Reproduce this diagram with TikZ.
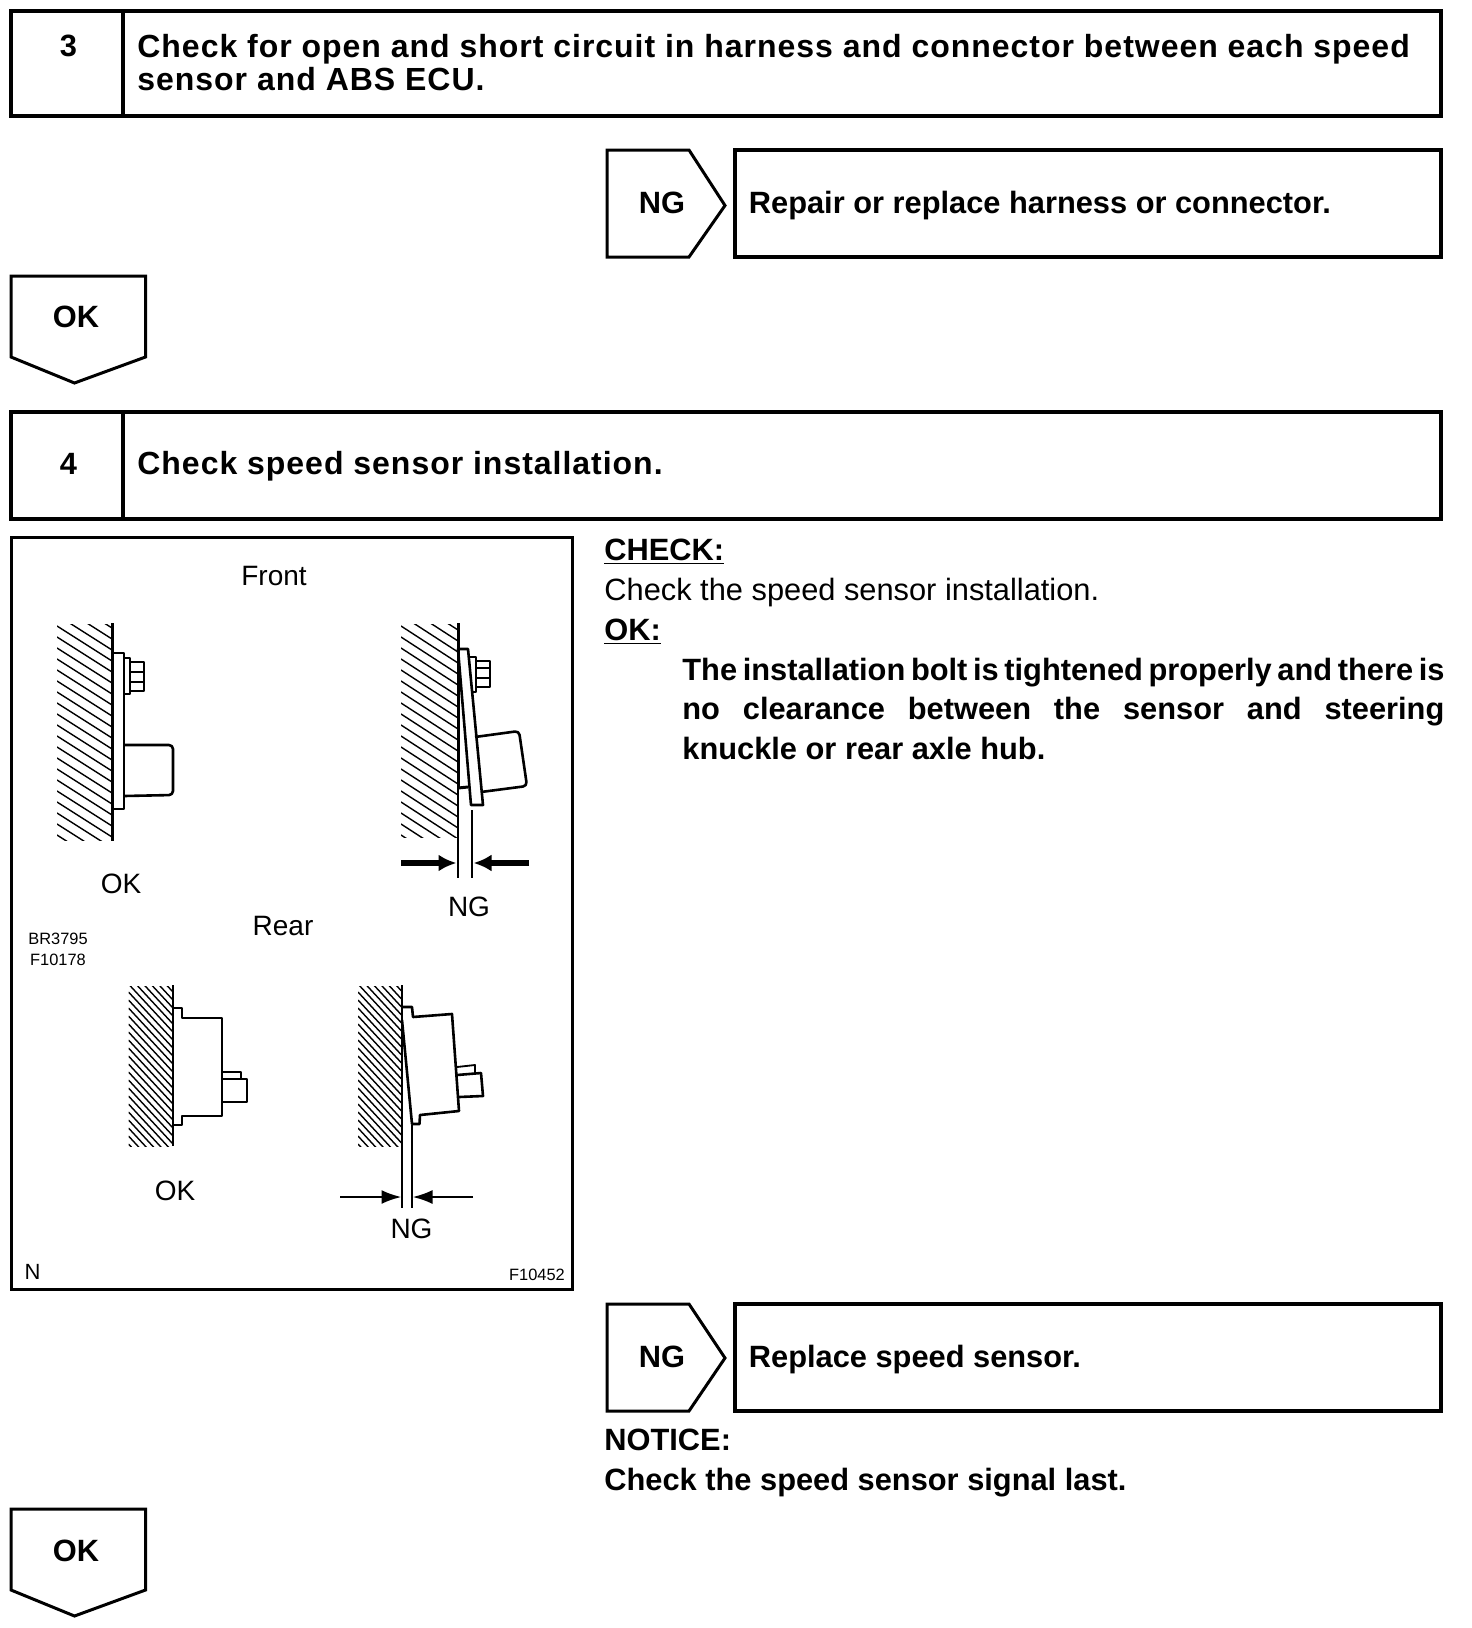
\documentclass[tikz,border=0pt]{standalone}
\usepackage{fontspec}
\setmainfont{Liberation Sans}
\usetikzlibrary{arrows.meta,positioning,calc}
\tikzset{
  stepframe/.style={draw, line width=1.7pt, line join=miter},
  tagframe/.style={draw, line width=1.5pt, line join=miter},
  panelframe/.style={draw, line width=1.5pt},
  partline/.style={draw, line width=1.3pt, line join=round},
  thickpart/.style={draw, line width=1.5pt, line join=round},
  hatchline/.style={line width=0.7pt},
  gapline/.style={line width=0.7pt},
  gaparrow/.style={-{Latex[length=10pt,width=7pt]}, line width=1.2pt},
  gaparrowbold/.style={-{Latex[length=9pt,width=8.5pt]}, line width=3.2pt},
  steptext/.style={inner sep=0pt, anchor=west, font=\fontsize{16}{16.5}\selectfont\bfseries\addfontfeature{LetterSpace=3.05}, align=left},
  tagtext/.style={inner sep=0pt, font=\fontsize{15.4}{16.5}\selectfont\bfseries},
  bodytext/.style={inner sep=0pt, anchor=west, font=\fontsize{15.4}{19.7}\selectfont},
  boldtext/.style={inner sep=0pt, anchor=west, font=\fontsize{15.4}{19.7}\selectfont\bfseries},
  figtext/.style={inner sep=0pt, font=\fontsize{14}{16}\selectfont},
  figsmall/.style={inner sep=0pt, font=\fontsize{8.2}{10}\selectfont},
}

\begin{document}
\begin{tikzpicture}[x=0.5pt,y=-0.5pt]
  \useasboundingbox (0,0) rectangle (1472,1628);

  \draw[stepframe] (11,11) rectangle (1441,116);
  \draw[stepframe] (123,11) -- (123,116);
  \node[tagtext] (num3) at (68.5,46) {3};
  \node[steptext] (step3) at (137,62.5)
    {Check for open and short circuit in harness and connector between each speed\\sensor and ABS ECU.};

  \draw[tagframe] (607,150) -- (689,150) -- (725,205.5) -- (689,257) -- (607,257) -- cycle;
  \node[tagtext] (ng3) at (662,203) {NG};
  \draw[stepframe] (735,150) rectangle (1441,257);
  \node[boldtext] (repair) at (748.5,206) {Repair or replace harness or connector.};

  \draw[tagframe] (11,276) -- (145.5,276) -- (145.5,357) -- (74.5,383) -- (11,357) -- cycle;
  \node[tagtext] (ok3) at (76,317) {OK};

  \draw[stepframe] (11,412) rectangle (1441,519);
  \draw[stepframe] (123,412) -- (123,519);
  \node[tagtext] (num4) at (68.5,464) {4};
  \node[steptext] (step4) at (137,466) {Check speed sensor installation.};

  \draw[panelframe] (11.5,537) rectangle (572,1289);

  \node[figtext] (front) at (274,576) {Front};
  \begin{scope}
    \clip (57,624) rectangle (112,840);
    \foreach \yy in {560,571,...,850}
      \draw[hatchline] (57,\yy) -- ++(55,35);
  \end{scope}
  \draw[thickpart] (112,623) -- (112,841);
  \draw[partline] (112,653) -- (124,653) -- (124,809) -- (112,809);
  \draw[partline] (124,658) -- (130,658) -- (130,694) -- (124,694);
  \draw[partline] (130,662) -- (144,662) -- (144,691) -- (130,691);
  \draw[partline] (130,672) -- (144,672);
  \draw[partline] (130,682) -- (144,682);
  \draw[partline, rounded corners=2pt] (124,745) -- (173,745) -- (173,795) -- (124,796);
  \node[figtext] (frontok) at (121,884) {OK};

  \begin{scope}
    \clip (401,624) rectangle (458,837);
    \foreach \yy in {560,571,...,850}
      \draw[hatchline] (401,\yy) -- ++(57,37);
  \end{scope}
  \draw[thickpart] (458,623) -- (458,788);
  \draw[thickpart] (458,788) -- (468,787);
  \draw[gapline, line width=0.9pt] (458,788) -- (458,837);
  \draw[partline] (458,649) -- (468,649) -- (483,805) -- (471,805) -- cycle;
  \draw[partline] (469,657) -- (476,657) -- (476,692) -- (472,692);
  \draw[partline] (476,661) -- (490,661) -- (490,687) -- (476,687);
  \draw[partline] (476,668) -- (490,668);
  \draw[partline] (476,678) -- (490,678);
  \draw[partline, rounded corners=2pt] (475,737) -- (519,731) -- (527,786) -- (481,792);
  \coordinate (fgapl) at (458,837);
  \coordinate (fgapr) at (472,810);
  \draw[gapline, line width=0.8pt] (fgapl) -- ++(0,41);
  \draw[gapline, line width=0.8pt] (fgapr) -- ++(0,68);
  \coordinate (fgapla) at (456.5,863);
  \coordinate (fgapra) at (473.5,863);
  \draw[gaparrowbold] (401,863) -- (fgapla);
  \draw[gaparrowbold] (529,863) -- (fgapra);
  \node[figtext] (frontng) at (469,907) {NG};

  \node[figtext] (rear) at (283,926) {Rear};
  \node[figsmall] (codea) at (58,939) {BR3795};
  \node[figsmall] (codeb) at (58,960) {F10178};

  \begin{scope}
    \clip (128.5,986) rectangle (173,1146);
    \foreach \yy in {880,888,...,1150}
      \draw[hatchline] (128.5,\yy) -- ++(44.5,48);
  \end{scope}
  \draw[gapline, line width=1pt] (173,985) -- (173,1146);
  \draw[partline] (173,1008) -- (182,1008) -- (182,1018) -- (222,1018) -- (222,1116) -- (182,1116) -- (182,1125) -- (173,1125);
  \draw[partline, line width=0.9pt] (222,1072) -- (241,1072) -- (241,1079);
  \draw[partline] (222,1079) -- (247,1079) -- (247,1102) -- (222,1102);
  \node[figtext] (rearok) at (175,1191) {OK};

  \begin{scope}
    \clip (358,986) rectangle (402,1146);
    \foreach \yy in {880,888,...,1150}
      \draw[hatchline] (358,\yy) -- ++(44,47.5);
  \end{scope}
  \draw[gapline, line width=1pt] (402,985) -- (402,1146);
  \draw[partline] (402,1007) -- (412,1007) -- (413,1017) -- (452,1014) -- (459,1111) -- (420,1115) -- (419.5,1124) -- (412,1124) -- (402,1020);
  \draw[partline, line width=0.9pt] (457,1067) -- (475,1065) -- (475,1073);
  \draw[partline] (457,1075) -- (481,1073) -- (483,1096) -- (459,1097);
  \coordinate (rgapl) at (402,1146);
  \coordinate (rgapr) at (412,1125);
  \draw[gapline] (rgapl) -- ++(0,62);
  \draw[gapline] (rgapr) -- ++(0,83);
  \coordinate (rgapla) at (401.5,1197);
  \coordinate (rgapra) at (412.5,1197);
  \draw[gaparrow] (340,1197) -- (rgapla);
  \draw[gaparrow] (473,1197) -- (rgapra);
  \node[figtext] (rearng) at (411.5,1229) {NG};

  \node[inner sep=0pt, font=\fontsize{11}{13}\selectfont] (mark) at (32.5,1272) {N};
  \node[figsmall] (codec) at (537,1275) {F10452};

  \node[boldtext] (check) at (604,552) {\underline{CHECK:}};
  \node[bodytext] (checktxt) at (604,592.5) {Check the speed sensor installation.};
  \node[boldtext] (oklabel) at (604,632) {\underline{OK:}};
  \node[boldtext, anchor=north west, text width=381pt, align=justify] (oktxt) at (682,657.5)
    {\spaceskip=.278em plus .5em minus .11em The installation bolt is tightened properly and there is\linebreak no clearance between the sensor and steering\linebreak knuckle or rear axle hub.};

  \draw[tagframe] (607,1304) -- (689,1304) -- (725,1358) -- (689,1411) -- (607,1411) -- cycle;
  \node[tagtext] (ng4) at (662,1357) {NG};
  \draw[stepframe] (735,1304) rectangle (1441,1411);
  \node[boldtext] (replace) at (748.5,1360) {Replace speed sensor.};
  \node[boldtext] (notice) at (604,1440) {NOTICE:};
  \node[boldtext] (noticetxt) at (604,1483) {Check the speed sensor signal last.};

  \draw[tagframe] (11,1509) -- (145.5,1509) -- (145.5,1590) -- (74.5,1616) -- (11,1590) -- cycle;
  \node[tagtext] (ok4) at (76,1551) {OK};
\end{tikzpicture}
\end{document}
